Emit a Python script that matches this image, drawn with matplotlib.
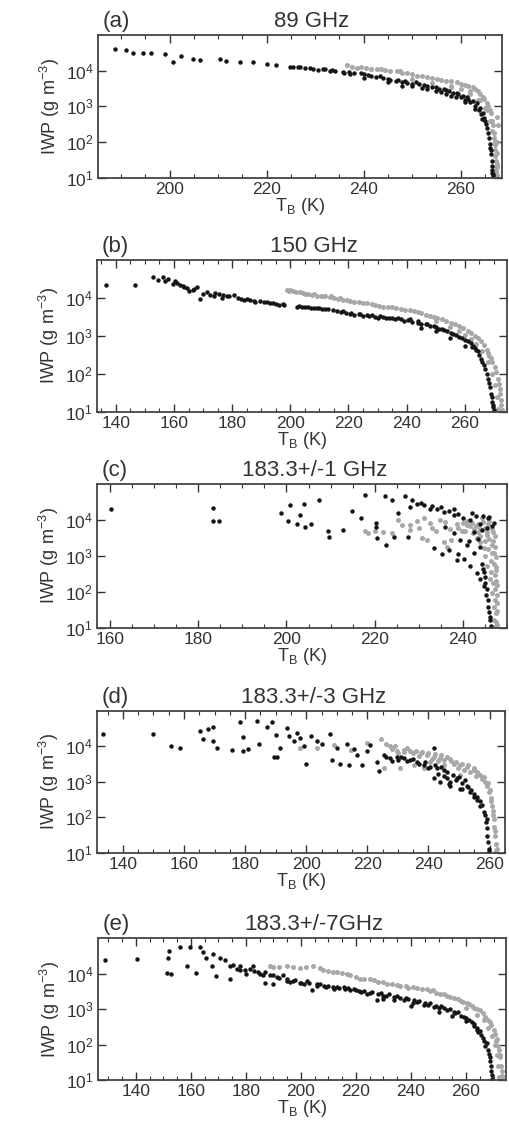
import numpy as np
import matplotlib
matplotlib.use('Agg')
import matplotlib.pyplot as plt
from matplotlib.ticker import MultipleLocator, LogLocator, NullFormatter

plt.rcParams['font.family'] = ['Liberation Sans', 'DejaVu Sans']

# (a) 89 GHz
a_black_tb = [188.7, 191.0, 192.4, 194.5, 196.2, 199.0, 200.7, 202.4, 204.8, 206.2, 210.3, 211.7,
              214.5, 217.2, 220.0, 222.0, 224.8, 226.8, 229.0, 231.6, 233.5, 235.7, 237.2, 239.5,
              241.0, 243.3, 245.0, 246.6, 248.5, 250.9, 252.5, 255.0, 257.0, 259.2, 260.5, 261.3,
              262.5, 263.4, 264.0, 264.6, 265.1, 265.6, 266.0, 266.2, 266.4, 266.5, 266.6,
              248.0, 252.0, 256.0, 258.0, 261.0,
              225.5, 226.5, 228.0, 229.5, 230.5, 232.0, 233.0, 234.0, 236.0, 237.0, 238.0, 240.0,
              241.5, 242.5, 244.0, 245.5, 247.0, 248.0, 249.0, 250.0, 251.5, 253.0, 254.0, 255.5,
              256.5, 257.5, 258.5, 259.5, 260.0, 261.5, 262.0, 263.0, 263.7, 264.3, 264.8, 265.2,
              265.4, 265.8, 266.1, 266.3, 266.4, 266.5, 266.6,
              240.0, 245.0, 250.0, 253.0, 255.0, 257.0, 259.0, 261.0, 263.0, 264.5]
a_black_iwp = [4.1e4, 3.8e4, 3.2e4, 3.2e4, 3.2e4, 3.0e4, 1.7e4, 2.5e4, 2.1e4, 2.0e4, 2.1e4, 1.9e4,
               1.7e4, 1.7e4, 1.5e4, 1.45e4, 1.3e4, 1.25e4, 1.2e4, 1.1e4, 1.05e4, 9.0e3, 7.8e3, 8.5e3,
               7.6e3, 7.2e3, 6.0e3, 5.2e3, 5.0e3, 4.7e3, 4.0e3, 3.4e3, 2.9e3, 2.3e3, 2.0e3, 1.8e3,
               1.4e3, 1.2e3, 900, 630, 400, 180, 90, 60, 30, 14, 11,
               3.8e3, 3.2e3, 2.5e3, 2.0e3, 1.5e3,
               1.25e4, 1.3e4, 1.15e4, 1.1e4, 1.05e4, 1.08e4, 9.8e3, 9.5e3, 8.6e3, 9.2e3, 8.3e3, 7.8e3,
               7.2e3, 6.6e3, 6.4e3, 5.6e3, 5.5e3, 4.9e3, 4.6e3, 4.2e3, 4.3e3, 3.7e3, 3.5e3, 3.0e3,
               3.1e3, 2.6e3, 2.4e3, 2.2e3, 1.8e3, 1.6e3, 1.3e3, 1.0e3, 780, 600, 480, 330,
               250, 130, 70, 45, 22, 17, 13,
               6.4e3, 4.8e3, 3.6e3, 3.0e3, 2.6e3, 2.2e3, 1.8e3, 1.3e3, 850, 450]
a_gray_tb = [236.5, 238.7, 240.5, 242.8, 244.5, 246.9, 249.0, 251.0, 253.0, 255.1, 257.0, 259.2,
             261.0, 262.5, 263.6, 264.6, 265.4, 266.0, 266.5, 266.8, 267.0, 267.1, 267.2, 267.3,
             258.0, 262.0, 264.0, 265.5, 267.6, 267.6, 267.6,
             237.5, 239.5, 241.5, 243.5, 245.5, 247.5, 248.0, 250.0, 252.0, 254.0, 256.0, 258.0,
             260.0, 261.5, 263.0, 264.0, 264.8, 265.7, 266.2, 266.6, 266.9, 267.1, 267.2, 267.3,
             250.0, 254.0, 258.0, 260.0, 262.0, 263.5, 265.0, 266.0, 266.5, 267.0, 267.4, 267.5,
             267.5, 267.7]
a_gray_iwp = [1.4e4, 1.2e4, 1.15e4, 1.1e4, 1.05e4, 1.0e4, 8.5e3, 7.2e3, 6.5e3, 6.0e3, 5.2e3, 4.7e3,
              4.0e3, 3.4e3, 2.6e3, 1.8e3, 1.2e3, 780, 400, 180, 80, 40, 20, 11,
              3.8e3, 2.6e3, 1.5e3, 800, 500, 100, 20,
              1.3e4, 1.25e4, 1.1e4, 1.1e4, 9.5e3, 9.5e3, 8.8e3, 7.8e3, 7.0e3, 6.2e3, 5.6e3, 5.0e3,
              4.3e3, 3.7e3, 3.0e3, 2.2e3, 1.6e3, 1.0e3, 650, 300, 130, 60, 30, 15,
              5.8e3, 4.6e3, 3.5e3, 3.0e3, 2.2e3, 1.5e3, 900, 400, 200, 100, 50, 25,
              12, 300]

# (b) 150 GHz
b_black_tb = [136.6, 146.6, 152.8, 154.5, 156.2, 158.0, 159.7, 160.5, 162.0, 163.5, 164.5, 166.7,
              168.0, 169.0, 171.3, 172.5, 173.6, 175.5, 176.5, 178.2, 180.5, 183.0, 185.2, 187.5,
              189.7, 192.0, 194.1, 196.0, 197.6, 202.3, 205.0, 207.0, 209.2, 212.0, 214.8, 217.5,
              220.7, 223.5, 226.5, 229.0, 232.0, 235.0, 237.9, 240.5, 243.8, 246.5, 249.3, 252.0,
              255.2, 258.0, 261.0, 263.0, 264.5, 265.7, 266.6, 267.5, 268.3, 269.0, 269.7, 270.0,
              245.0, 250.0, 255.0, 260.0,
              203.0, 204.0, 206.0, 208.0, 210.0, 211.0, 213.0, 216.0, 218.0, 219.0, 221.0, 222.0,
              224.0, 225.0, 227.0, 228.0, 230.0, 231.0, 233.0, 234.0, 236.0, 237.0, 239.0, 241.0,
              242.0, 244.0, 245.0, 247.0, 248.0, 250.0, 251.0, 253.0, 254.0, 256.0, 257.0, 259.0,
              260.0, 262.0, 262.5, 263.5, 264.0, 265.0, 266.0, 267.0, 268.0, 268.6, 269.2, 269.5,
              269.8,
              157.0, 161.0, 163.0, 165.0, 167.0, 170.0, 174.0, 177.0, 179.0, 182.0, 184.0, 186.0,
              188.0, 191.0, 193.0, 195.0, 198.0]
b_black_iwp = [2.2e4, 2.2e4, 3.6e4, 3.0e4, 3.5e4, 3.2e4, 2.3e4, 2.8e4, 2.2e4, 1.9e4, 1.8e4, 1.6e4,
               1.9e4, 9.3e3, 1.4e4, 1.2e4, 1.15e4, 1.3e4, 1.0e4, 1.15e4, 1.2e4, 9.5e3, 9.3e3, 8.5e3,
               8.3e3, 7.8e3, 7.2e3, 6.5e3, 7.0e3, 5.9e3, 5.7e3, 5.5e3, 5.4e3, 5.2e3, 4.9e3, 4.3e3,
               3.8e3, 3.7e3, 3.5e3, 3.2e3, 3.1e3, 2.9e3, 2.75e3, 2.6e3, 2.2e3, 2.0e3, 1.85e3, 1.5e3,
               1.2e3, 950, 740, 550, 390, 250, 170, 100, 56, 30, 15, 11,
               1.6e3, 1.3e3, 900, 550,
               6.0e3, 5.6e3, 5.8e3, 5.3e3, 5.5e3, 5.0e3, 5.0e3, 4.6e3, 4.5e3, 4.0e3, 4.0e3, 3.6e3,
               3.8e3, 3.4e3, 3.3e3, 3.6e3, 3.0e3, 3.3e3, 2.9e3, 3.0e3, 2.7e3, 2.9e3, 2.5e3, 2.7e3,
               2.3e3, 2.4e3, 2.0e3, 2.1e3, 1.8e3, 1.7e3, 1.55e3, 1.45e3, 1.3e3, 1.1e3, 1.05e3, 850,
               780, 640, 520, 470, 420, 310, 200, 130, 75, 45, 24, 18,
               13,
               2.8e4, 2.5e4, 2.0e4, 1.5e4, 1.7e4, 1.3e4, 1.35e4, 1.2e4, 1.1e4, 1.0e4, 9.0e3, 8.8e3,
               8.0e3, 8.0e3, 7.5e3, 7.0e3, 6.5e3]
b_gray_tb = [198.9, 201.0, 203.4, 206.0, 209.2, 212.0, 215.0, 218.0, 220.7, 223.5, 226.5, 229.0,
             232.0, 235.0, 237.9, 241.0, 243.8, 246.5, 249.3, 252.0, 255.2, 258.0, 261.0, 263.5,
             265.5, 267.5, 269.0, 270.3, 271.4, 272.0, 272.4, 272.8,
             199.5, 200.0, 202.0, 204.5, 205.0, 207.5, 208.0, 210.5, 211.0, 213.5, 214.0, 216.5,
             217.0, 219.5, 222.0, 225.0, 228.0, 230.5, 233.5, 236.5, 239.5, 242.5, 245.0, 248.0,
             250.5, 253.5, 256.5, 259.5, 262.0, 264.5, 266.5, 268.0, 268.5, 269.5, 270.8, 271.8,
             272.2, 272.6,
             250.0, 255.0, 258.0, 260.0, 262.0, 264.0, 266.0, 268.0, 269.5, 270.5, 271.0, 271.5]
b_gray_iwp = [1.6e4, 1.5e4, 1.4e4, 1.25e4, 1.15e4, 1.1e4, 1.0e4, 9.0e3, 8.3e3, 7.8e3, 7.2e3, 6.5e3,
              5.9e3, 5.6e3, 5.2e3, 4.7e3, 4.3e3, 3.6e3, 3.1e3, 2.7e3, 2.2e3, 1.8e3, 1.35e3, 1.0e3,
              710, 420, 260, 150, 72, 40, 20, 11,
              1.5e4, 1.6e4, 1.4e4, 1.35e4, 1.3e4, 1.2e4, 1.3e4, 1.1e4, 1.15e4, 1.05e4, 1.1e4, 9.5e3,
              1.0e4, 8.6e3, 8.0e3, 7.5e3, 6.8e3, 6.2e3, 5.8e3, 5.4e3, 4.9e3, 4.5e3, 4.0e3, 3.4e3,
              2.9e3, 2.5e3, 2.0e3, 1.6e3, 1.2e3, 850, 560, 350, 300, 200, 110, 55,
              30, 15,
              2.5e3, 1.7e3, 1.3e3, 1.05e3, 800, 600, 400, 200, 100, 50, 25, 12]

# (c) 183.3+/-1 GHz
c_black_tb = [160.2, 183.4, 183.4, 184.6, 198.8, 200.8, 200.3, 202.3, 203.1, 203.9, 204.2, 205.5,
              207.3, 209.4, 209.7, 212.8, 214.8, 216.8, 217.8, 220.3, 220.3, 220.5, 222.3, 222.5,
              224.0, 224.4, 225.2, 226.8, 227.6, 228.1, 229.6, 231.1, 232.6, 234.1, 235.7, 236.8,
              237.9, 239.0, 240.1, 241.6, 243.0, 243.9, 245.4, 244.3, 233.5, 235.3, 236.8, 239.0,
              240.2, 238.7, 236.0, 237.9, 239.4, 240.9, 241.6, 243.1, 243.9, 244.7, 245.3, 245.8,
              246.2, 246.3, 245.8, 246.5,
              244.5, 246.0, 247.0, 242.0, 238.0, 235.0, 233.0, 230.5, 228.5, 242.5, 243.5, 241.5,
              244.0, 242.5, 244.3, 244.8, 245.1, 245.5, 245.6, 245.9, 246.1, 245.0, 244.5]
c_black_iwp = [2.0e4, 2.1e4, 9.3e3, 9.3e3, 1.5e4, 2.5e4, 9.5e3, 7.8e3, 1.35e4, 2.75e4, 6.2e3, 7.8e3,
               3.5e4, 4.8e3, 3.4e3, 5.2e3, 1.8e4, 1.1e4, 4.8e4, 8.1e3, 6.2e3, 3.1e3, 4.5e4, 1.95e3,
               3.5e4, 3.4e3, 1.5e4, 4.5e4, 3.4e3, 2.2e4, 2.75e4, 2.5e4, 2.0e4, 2.0e4, 1.6e4, 1.7e4,
               1.35e4, 1.4e4, 1.1e4, 1.0e4, 1.25e4, 7.8e3, 5.9e3, 5.2e3, 1.65e3, 1.15e3, 1.4e3, 1.15e3,
               790, 760, 6.2e3, 4.3e3, 2.75e3, 1.95e3, 520, 340, 220, 140, 81, 38,
               16, 11, 1.1e4, 6.5e3,
               1.3e4, 1.2e4, 8.0e3, 1.5e4, 2.0e4, 2.2e4, 2.4e4, 3.0e4, 3.5e4, 4.5e3, 3.0e3, 2.5e3,
               1.7e3, 1.2e3, 600, 350, 250, 120, 60, 28, 20, 180, 420]
c_gray_tb = [217.7, 218.5, 225.2, 226.3, 228.1, 229.6, 231.1, 230.7, 231.9, 232.6, 234.9, 235.7,
             236.4, 237.2, 238.7, 239.8, 241.0, 241.6, 242.4, 243.1, 243.9, 244.7, 245.1, 245.4,
             246.2, 246.6, 247.0, 247.1, 247.4, 244.4, 243.5, 245.4, 245.8, 246.5, 247.0, 247.5,
             246.8, 247.6, 247.7,
             240.0, 241.0, 242.0, 242.5, 243.0, 243.5, 244.0, 244.0, 244.5, 245.0, 245.0, 245.5,
             245.8, 246.0, 246.0, 246.3, 246.5, 246.7, 246.9, 247.0, 247.2, 247.3, 247.4, 247.5,
             247.6, 247.2, 247.3, 247.5, 247.6, 247.7, 247.8, 247.8, 247.8, 246.8, 246.4, 239.0,
             240.5, 237.0, 236.0, 234.0, 233.0, 230.0, 228.0, 224.0, 222.0, 220.0]
c_gray_iwp = [4.8e3, 4.3e3, 1.0e4, 7.1e3, 5.2e3, 9.3e3, 1.1e4, 3.1e3, 2.75e3, 8.1e3, 1.0e4, 2.45e3,
              1.8e3, 2.75e3, 7.4e3, 4.8e3, 9.3e3, 6.6e3, 4.3e3, 3.1e3, 2.45e3, 1.6e3, 1.0e3, 520,
              220, 91, 38, 16, 10.5, 1.1e4, 7.4e3, 3.8e3, 7.4e3, 2.0e3, 1.2e3, 500,
              4.5e3, 200, 50,
              8.0e3, 7.0e3, 8.0e3, 5.5e3, 6.5e3, 4.5e3, 5.5e3, 3.5e3, 8.5e3, 6.0e3, 2.5e3, 4.5e3,
              1.5e3, 9.0e3, 3.0e3, 700, 5.5e3, 1.2e3, 2.5e3, 600, 300, 120, 60, 25,
              14, 3.5e3, 1.8e3, 900, 400, 150, 80, 30, 12, 180, 350, 6.0e3,
              5.0e3, 5.5e3, 8.5e3, 5.0e3, 6.0e3, 6.0e3, 7.0e3, 4.2e3, 4.5e3, 5.0e3]

# (d) 183.3+/-3 GHz
d_black_tb = [133.5, 149.9, 155.6, 158.7, 165.2, 166.3, 167.9, 169.6, 169.6, 170.7, 175.6, 178.4,
              179.4, 179.4, 181.1, 183.8, 184.4, 187.1, 188.8, 189.3, 190.4, 190.2, 191.5, 193.7,
              194.3, 195.9, 197.0, 198.1, 199.2, 200.0, 201.4, 203.6, 205.2, 207.9, 208.5, 210.1,
              211.2, 213.4, 213.9, 215.6, 216.7, 218.3, 219.9, 221.0, 223.2, 223.7, 225.4, 227.5,
              229.7, 231.9, 234.1, 236.3, 238.5, 240.6, 241.7, 242.8, 245.0, 246.1, 246.6, 241.7,
              243.9, 247.2, 249.3, 250.4, 252.6, 253.7, 254.8, 255.8, 256.9, 258.0, 258.9, 259.3,
              259.7,
              226.0, 228.0, 230.0, 231.0, 233.0, 235.0, 237.0, 239.0, 240.0, 242.0, 244.0, 246.0,
              248.0, 249.0, 250.0, 251.0, 252.0, 253.0, 254.0, 255.0, 256.0, 257.0, 257.5, 258.5,
              259.0, 259.2, 259.5, 259.8, 243.0, 247.0, 251.0, 245.0]
d_black_iwp = [2.2e4, 2.2e4, 1.0e4, 9.3e3, 2.7e4, 1.6e4, 3.2e4, 3.6e4, 1.4e4, 9.1e3, 8.1e3, 4.9e4,
               1.9e4, 7.2e3, 8.7e3, 5.2e4, 1.2e4, 3.6e4, 4.8e4, 5.1e3, 5.1e3, 2.1e4, 8.9e3, 3.3e4,
               2.0e4, 1.45e4, 2.4e4, 1.75e4, 1.0e4, 3.2e3, 1.95e4, 1.45e4, 1.2e4, 2.2e4, 4.2e3, 9.1e3,
               3.3e3, 1.2e4, 3.0e3, 8.7e3, 5.9e3, 3.0e3, 7.2e3, 1.1e4, 3.7e3, 2.0e3, 5.9e3, 4.7e3,
               5.2e3, 4.7e3, 4.2e3, 3.7e3, 3.0e3, 2.7e3, 8.9e3, 2.45e3, 2.2e3, 1.26e3, 890, 1.26e3,
               1.0e3, 790, 1.26e3, 650, 790, 510, 370, 300, 210, 140, 72, 30,
               12.6,
               5.0e3, 4.0e3, 4.2e3, 5.2e3, 3.8e3, 4.5e3, 3.3e3, 3.6e3, 2.4e3, 3.0e3, 2.6e3, 1.9e3,
               1.6e3, 1.1e3, 1.4e3, 900, 1.1e3, 700, 600, 450, 380, 280, 220, 120,
               90, 50, 20, 11, 1.7e3, 1.0e3, 650, 1.5e3]
d_gray_tb = [198.1, 203.6, 209.0, 214.5, 219.9, 224.3, 227.5, 229.7, 231.9, 234.1, 237.4, 239.6,
             241.7, 243.9, 246.1, 248.3, 250.4, 252.6, 254.8, 256.9, 258.6, 259.7, 260.8, 261.3,
             261.8, 262.2, 235.2, 238.5, 240.6, 250.4, 225.4, 230.8,
             226.0, 228.0, 229.0, 230.0, 232.0, 233.0, 235.0, 236.0, 237.0, 238.0, 240.0, 241.0,
             242.0, 243.0, 244.0, 245.0, 245.0, 247.0, 247.5, 249.0, 249.5, 251.0, 251.5, 253.0,
             253.5, 255.0, 255.5, 256.0, 257.5, 258.0, 259.0, 259.5, 260.0, 260.3, 260.6, 261.0,
             261.2, 261.5, 261.7, 262.0, 262.3]
d_gray_iwp = [8.9e3, 8.9e3, 1.1e4, 8.1e3, 1.26e4, 1.6e4, 1.0e4, 7.2e3, 8.1e3, 7.2e3, 6.5e3, 5.9e3,
              5.2e3, 4.7e3, 5.2e3, 3.3e3, 3.0e3, 2.7e3, 2.2e3, 1.6e3, 1.0e3, 510, 210, 89,
              30, 11, 3.0e3, 2.45e3, 3.7e3, 1.6e3, 2.45e3, 2.45e3,
              1.2e4, 8.5e3, 1.0e4, 6.5e3, 6.8e3, 9.0e3, 6.5e3, 7.5e3, 5.5e3, 7.0e3, 6.5e3, 4.5e3,
              6.0e3, 4.0e3, 5.8e3, 4.2e3, 3.0e3, 4.5e3, 3.8e3, 3.6e3, 2.5e3, 3.2e3, 2.2e3, 2.9e3,
              1.9e3, 2.5e3, 1.5e3, 1.9e3, 1.2e3, 1.4e3, 750, 900, 600, 350, 280, 150,
              120, 55, 40, 18, 13]

# (e) 183.3+/-7 GHz
e_black_tb = [128.7, 140.5, 151.2, 152.9, 151.5, 152.1, 156.0, 158.4, 159.6, 161.7, 163.2, 164.4,
              165.6, 167.5, 168.1, 169.3, 170.5, 172.3, 174.1, 174.1, 175.4, 176.6, 177.8, 179.6,
              181.4, 182.6, 184.5, 186.3, 186.9, 188.7, 189.9, 191.2, 193.6, 194.8, 197.2, 199.7,
              202.1, 203.9, 205.8, 208.2, 211.8, 215.5, 219.1, 224.0, 227.6, 230.0, 233.7, 237.3,
              240.9, 244.6, 248.2, 251.9, 255.5, 259.2, 262.8, 265.2, 267.6, 268.8, 269.4,
              250.0, 255.0, 260.0, 264.0, 240.0, 230.0,
              196.0, 198.0, 200.0, 201.0, 203.0, 206.0, 207.0, 209.0, 210.0, 212.0, 213.0, 214.0,
              216.0, 217.0, 218.0, 220.0, 221.0, 222.0, 223.0, 225.0, 226.0, 228.0, 229.0, 231.0,
              232.0, 234.0, 235.0, 236.0, 238.0, 239.0, 241.0, 242.0, 243.0, 245.0, 246.0, 247.0,
              249.0, 250.0, 251.0, 253.0, 254.0, 256.0, 257.0, 258.0, 260.0, 261.0, 262.0, 263.0,
              264.0, 264.5, 265.5, 266.0, 266.5, 267.0, 268.0, 268.3, 268.6, 269.0, 269.2, 269.5,
              183.0, 185.0, 187.0, 190.0, 192.0, 195.0, 178.0, 180.0]
e_black_iwp = [2.4e4, 2.6e4, 1.07e4, 9.8e3, 2.75e4, 4.4e4, 5.5e4, 1.6e4, 5.5e4, 1.07e4, 5.5e4, 4.0e4,
               2.75e4, 1.6e4, 3.5e4, 8.5e3, 2.75e4, 2.45e4, 1.6e4, 6.9e3, 1.75e4, 1.4e4, 1.6e4, 1.26e4,
               1.4e4, 1.6e4, 1.12e4, 8.9e3, 5.6e3, 8.9e3, 5.1e3, 7.9e3, 8.9e3, 6.3e3, 6.3e3, 5.6e3,
               6.3e3, 3.5e3, 5.0e3, 4.6e3, 4.1e3, 4.1e3, 3.6e3, 2.6e3, 1.8e3, 2.3e3, 1.8e3, 1.8e3,
               1.5e3, 1.3e3, 1.17e3, 1.05e3, 830, 590, 380, 240, 110, 45, 14,
               850, 640, 450, 260, 1.2e3, 1.9e3,
               6.0e3, 6.5e3, 5.5e3, 5.0e3, 5.5e3, 4.5e3, 5.2e3, 4.3e3, 4.6e3, 3.8e3, 4.3e3, 3.9e3,
               3.7e3, 4.0e3, 3.4e3, 3.5e3, 3.2e3, 3.0e3, 3.3e3, 2.8e3, 3.0e3, 2.6e3, 2.8e3, 2.4e3,
               2.6e3, 2.2e3, 2.4e3, 2.0e3, 2.1e3, 1.9e3, 1.8e3, 1.6e3, 1.7e3, 1.5e3, 1.35e3, 1.45e3,
               1.25e3, 1.1e3, 1.2e3, 950, 1.0e3, 780, 820, 650, 560, 480, 420, 330,
               300, 220, 190, 150, 130, 90, 70, 55, 35, 25, 18, 11,
               1.2e4, 1.0e4, 1.1e4, 9.0e3, 7.5e3, 7.0e3, 1.3e4, 1.0e4]
e_gray_tb = [188.7, 194.8, 199.7, 204.5, 206.9, 211.8, 216.7, 221.5, 226.4, 231.2, 236.1, 240.9,
             245.8, 250.7, 255.5, 260.4, 265.2, 268.8, 271.3, 272.5, 273.1,
             190.0, 192.0, 197.0, 202.0, 208.0, 210.0, 213.0, 215.0, 218.0, 220.0, 223.0, 225.0,
             228.0, 230.0, 233.0, 235.0, 238.0, 239.0, 242.0, 244.0, 247.0, 248.0, 249.0, 252.0,
             253.0, 254.0, 257.0, 258.0, 259.0, 261.0, 262.0, 263.0, 264.0, 266.0, 267.0, 268.0,
             269.0, 270.0, 270.5, 271.0, 271.8, 272.0, 272.3, 272.8, 273.0, 273.2,
             260.0, 264.0, 266.5, 268.0, 269.5, 270.5, 271.3, 271.8, 272.0]
e_gray_iwp = [1.6e4, 1.6e4, 1.45e4, 1.6e4, 1.45e4, 1.15e4, 9.8e3, 7.2e3, 6.5e3, 5.1e3, 4.6e3, 4.1e3,
              3.6e3, 2.6e3, 2.1e3, 1.5e3, 930, 430, 140, 45, 13,
              1.5e4, 1.55e4, 1.5e4, 1.5e4, 1.3e4, 1.2e4, 1.1e4, 1.05e4, 9.0e3, 8.0e3, 7.0e3, 7.0e3,
              6.0e3, 5.8e3, 5.0e3, 4.8e3, 4.5e3, 4.0e3, 4.0e3, 3.6e3, 3.3e3, 3.5e3, 2.9e3, 2.6e3,
              2.3e3, 2.2e3, 1.9e3, 1.7e3, 1.6e3, 1.4e3, 1.2e3, 1.1e3, 1.0e3, 800, 600, 500,
              350, 250, 200, 130, 90, 70, 50, 25, 18, 11,
              1.1e3, 700, 500, 300, 170, 100, 50, 25, 12]

panel_letters = ['(a)', '(b)', '(c)', '(d)', '(e)']
panel_titles = ['89 GHz', '150 GHz', '183.3+/-1 GHz', '183.3+/-3 GHz', '183.3+/-7GHz']
x_limits = [(185.2, 268.5), (133.5, 274.5), (157.0, 250.0), (131.5, 265.0), (126.2, 274.5)]
x_ticks = [[200, 220, 240, 260], [140, 160, 180, 200, 220, 240, 260], [160, 180, 200, 220, 240],
           [140, 160, 180, 200, 220, 240, 260], [140, 160, 180, 200, 220, 240, 260]]
y_ticks = [1e1, 1e2, 1e3, 1e4]


def dibujar_panel(ax, black_tb, black_iwp, gray_tb, gray_iwp, letra, titulo, xlim, xticks):
    ax.plot(gray_tb, gray_iwp, 'o', color='#a8a8a8', markersize=3.6, markeredgewidth=0)
    ax.plot(black_tb, black_iwp, 'o', color='#151515', markersize=3.2, markeredgewidth=0)
    ax.set_yscale('log')
    ax.set_xlim(*xlim)
    ax.set_ylim(10, 1e5)
    ax.set_xticks(xticks)
    ax.set_yticks(y_ticks)
    ax.xaxis.set_minor_locator(MultipleLocator(5))
    ax.yaxis.set_minor_locator(LogLocator(base=10, subs=np.arange(2, 10)))
    ax.yaxis.set_minor_formatter(NullFormatter())
    ax.tick_params(which='both', direction='in', top=True, right=True, colors='#333333',
                   labelcolor='#333333', labelsize=12.5)
    ax.tick_params(which='major', length=6, width=1.0, pad=3)
    ax.tick_params(which='minor', length=3, width=0.8)
    for s in ax.spines.values():
        s.set_color('#444444')
        s.set_linewidth(1.3)
    ax.set_xlabel('T$_\\mathregular{B}$ (K)', fontsize=13, color='#333333', labelpad=-1)
    ax.set_ylabel('IWP (g m$^{\\mathregular{-3}}$)', fontsize=13, color='#333333', labelpad=3)
    ax.text(0.012, 1.02, letra, transform=ax.transAxes, ha='left', va='bottom',
            fontsize=16, color='#333333')
    ax.text(0.53, 1.02, titulo, transform=ax.transAxes, ha='center', va='bottom',
            fontsize=16, color='#333333')


fig = plt.figure(figsize=(5.1, 11.25), dpi=100)
posiciones = [[0.192, 0.842, 0.792, 0.127],
              [0.190, 0.634, 0.804, 0.135],
              [0.190, 0.442, 0.804, 0.128],
              [0.190, 0.242, 0.800, 0.126],
              [0.192, 0.040, 0.800, 0.126]]
datos = [(a_black_tb, a_black_iwp, a_gray_tb, a_gray_iwp),
         (b_black_tb, b_black_iwp, b_gray_tb, b_gray_iwp),
         (c_black_tb, c_black_iwp, c_gray_tb, c_gray_iwp),
         (d_black_tb, d_black_iwp, d_gray_tb, d_gray_iwp),
         (e_black_tb, e_black_iwp, e_gray_tb, e_gray_iwp)]

for i in range(5):
    ax = fig.add_axes(posiciones[i])
    bt, bi, gt, gi = datos[i]
    dibujar_panel(ax, bt, bi, gt, gi, panel_letters[i], panel_titles[i], x_limits[i], x_ticks[i])

fig.savefig('out.png', dpi=100)
